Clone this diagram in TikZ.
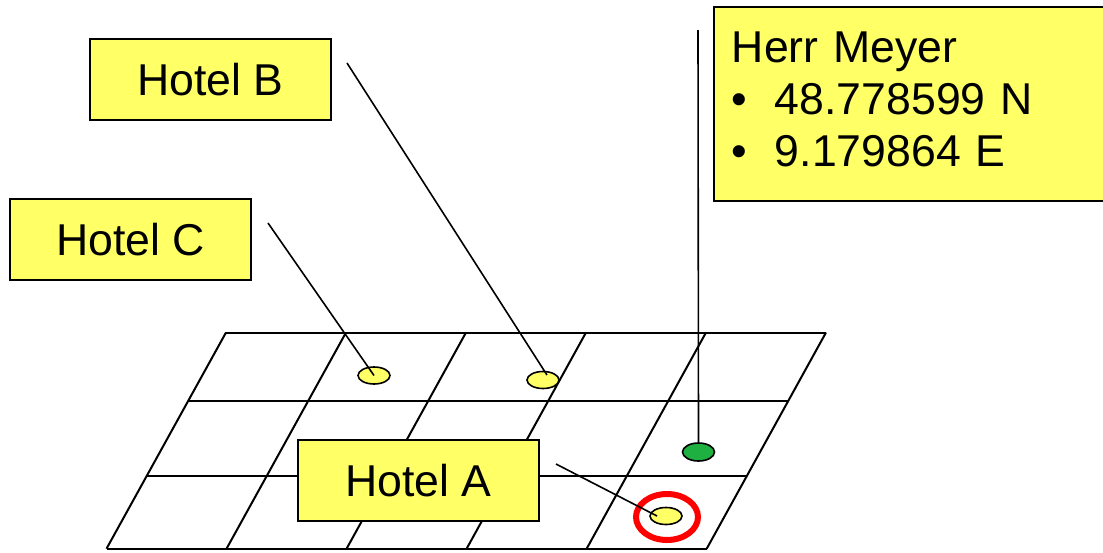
\documentclass[tikz,border=0pt]{standalone}
\usepackage{fontspec}
\setmainfont{Liberation Sans}
\usetikzlibrary{shapes.geometric,calc}
\definecolor{noteyellow}{RGB}{255,255,102}
\definecolor{spotgreen}{RGB}{30,176,64}
\definecolor{hitred}{RGB}{255,0,0}
\newcommand{\notefont}{\fontsize{22.3}{26}\selectfont}

\begin{document}
\begin{tikzpicture}[x=0.5pt,y=-0.5pt,
    gridline/.style={line width=1pt},
    hotelbox/.style={draw,line width=1pt,fill=noteyellow,inner sep=0pt,
                     minimum width=120.5pt,minimum height=40.5pt,font=\notefont},
    spot/.style={ellipse,draw,line width=0.8pt,fill=noteyellow,inner sep=0pt,
                 minimum width=16pt,minimum height=8.5pt},
    pin/.style={line width=0.8pt}]
\path[use as bounding box] (0,0) rectangle (1103,552);

% city map grid
\coordinate (tl) at (226,332.5);
\coordinate (tr) at (826,332.5);
\coordinate (bl) at (106.5,548.7);
\coordinate (br) at (706.7,548.7);
\foreach \i in {0,...,5}
  \draw[gridline] ($(tl)!\i/5!(tr)$) -- ($(bl)!\i/5!(br)$);
\foreach \f in {0,0.316,0.663,1}
  \draw[gridline] ($(tl)!\f!(bl)$) -- ($(tr)!\f!(br)$);

% positions on the map
\node[spot] (spotc) at (374,375.5) {};
\node[spot] (spotb) at (543,380) {};
\node[spot,fill=spotgreen,minimum height=9pt] (meyerpos) at (698.5,452) {};
\node[spot] (spota) at (666,516) {};
\node[ellipse,draw=hitred,line width=3pt,minimum width=31pt,minimum height=23pt] (hit) at (667,517) {};

% labels
\node[hotelbox] (hotelb) at (210.5,79.5) {Hotel B};
\node[hotelbox] (hotelc) at (130.5,239.5) {Hotel C};
\node[hotelbox] (hotela) at (418.5,480.5) {Hotel A};
% the note runs on past the right border
\node[fill=noteyellow,anchor=north west,align=left,
      font=\notefont,text width=222.5pt,inner xsep=8.75pt,inner ysep=0pt,
      minimum height=96.5pt] (meyer) at (714,7)
  {\strut Herr Meyer\\
   \makebox[21.5pt][l]{\textbullet}48.778599 N\strut\\
   \makebox[21.5pt][l]{\textbullet}9.179864 E\strut};
\draw[line width=1pt] (meyer.north east) -- (meyer.north west)
  -- (meyer.south west) -- (meyer.south east);

% pins from labels to the map
\coordinate (cstart) at ([xshift=8pt,yshift=-12.5pt]hotelc.north east);
\coordinate (bstart) at ([xshift=7.5pt,yshift=-12.5pt]hotelb.north east);
\coordinate (astart) at ([xshift=8pt,yshift=-12.5pt]hotela.north east);
\coordinate (mstart) at ([xshift=-8pt,yshift=-11.5pt]meyer.north west);
\draw[pin] (cstart) -- (spotc.center);
\draw[pin] (bstart) -- ([shift={(2pt,2.5pt)}]spotb.center);
\draw[pin] (astart) -- ([xshift=-4.5pt]spota.center);
\draw[pin] (mstart) -- (meyerpos.north);
\end{tikzpicture}
\end{document}
